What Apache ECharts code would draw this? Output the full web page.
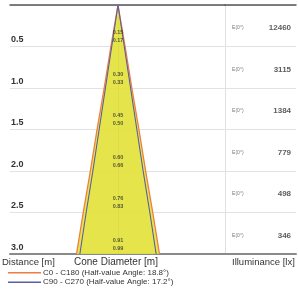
<!DOCTYPE html>
<html>
<head>
<meta charset="UTF-8">
<script src="https://cdn.jsdelivr.net/npm/echarts@6/dist/echarts.min.js"></script>
<style>
    html, body { margin: 0; background: #fff; }
    #chart { width: 298px; height: 294px; }
</style>
</head>
<body>
<div id="chart"></div>
<script>
    const distances = [0, 0.5, 1.0, 1.5, 2.0, 2.5, 3.0];
    const c0Diameters = [0, 0.17, 0.33, 0.50, 0.66, 0.83, 0.99];
    const c90Diameters = [0, 0.15, 0.30, 0.45, 0.60, 0.76, 0.91];
    const illuminance = [12460, 3115, 1384, 779, 498, 346];
    const c0Name = 'C0 - C180 (Half-value Angle: 18.8°)';
    const c90Name = 'C90 - C270 (Half-value Angle: 17.2°)';

    const FONT = '"Liberation Sans", Arial, sans-serif';
    const ORANGE = '#ee7d44';
    const BLUE = '#5b5ca6';

    // cone outline: left edge bottom -> apex, then right edge apex -> bottom
    function outline(diams) {
        const left = distances.map((d, i) => [-diams[i] / 2, d]).reverse();
        const right = distances.map((d, i) => [diams[i] / 2, d]).slice(1);
        return left.concat(right);
    }
    const c0Outline = outline(c0Diameters);
    const c90Outline = outline(c90Diameters);

    const chart = echarts.init(document.getElementById('chart'));

    const plainX = (grid, pos, color, width) => ({
        type: 'value', gridIndex: grid, position: pos,
        min: grid === 0 ? -1.289 : 0, max: grid === 0 ? 1.277 : 1,
        axisLine: { show: true, onZero: false, lineStyle: { color: color, width: width } },
        axisTick: { show: false }, axisLabel: { show: false }, splitLine: { show: false }
    });

    chart.setOption({
        animation: false,
        backgroundColor: '#fff',
        grid: [
            { left: 10, top: 5, width: 215, bottom: 40 },
            { left: 225, top: 5, right: 2, bottom: 40 }
        ],
        xAxis: [
            plainX(0, 'bottom', '#8a8a8a', 2),
            plainX(0, 'top', '#555', 1.5),
            plainX(1, 'bottom', '#8a8a8a', 2),
            plainX(1, 'top', '#555', 1.5)
        ],
        yAxis: [
            {
                type: 'value', gridIndex: 0, inverse: true, min: 0, max: 3, interval: 0.5,
                axisLine: { show: true, lineStyle: { color: '#999' } },
                axisTick: { show: false },
                splitLine: { lineStyle: { color: '#e2e2e2' } },
                axisLabel: {
                    inside: true, margin: 1, verticalAlign: 'bottom', padding: [0, 0, 2, 0],
                    color: '#333', fontFamily: FONT, fontSize: 9, fontWeight: 'bold',
                    formatter: v => v === 0 ? '' : v.toFixed(1)
                }
            },
            {
                type: 'value', gridIndex: 1, inverse: true, min: 0, max: 3, interval: 0.5,
                axisLine: { show: true, lineStyle: { color: '#e0e0e0' } },
                axisTick: { show: false }, axisLabel: { show: false },
                splitLine: { lineStyle: { color: '#e2e2e2' } }
            }
        ],
        legend: {
            orient: 'vertical', left: 8, top: 268, height: 30, padding: 0, itemGap: 0,
            itemWidth: 33, itemHeight: 1.5, icon: 'rect',
            textStyle: { fontFamily: FONT, fontSize: 8, color: '#333', lineHeight: 9.5, padding: [0, 0, 0, -3] },
            data: [c0Name, c90Name]
        },
        graphic: [
            { type: 'text', left: 2, top: 257, style: { text: 'Distance [m]', font: '9.5px ' + FONT, fill: '#333' } },
            { type: 'text', left: 74, top: 257, style: { text: 'Cone Diameter [m]', font: '10px ' + FONT, fill: '#333' } },
            { type: 'text', left: 232, top: 257, style: { text: 'Illuminance [lx]', font: '9.5px ' + FONT, fill: '#333' } }
        ],
        series: [
            {
                type: 'custom', xAxisIndex: 0, yAxisIndex: 0, z: 1,
                data: [0],
                renderItem: (params, api) => ({
                    type: 'polygon',
                    shape: { points: c0Outline.map(p => api.coord(p)) },
                    style: { fill: '#e3e33c', opacity: 0.92 }
                })
            },
            {
                name: c0Name, type: 'line', xAxisIndex: 0, yAxisIndex: 0, z: 3,
                data: c0Outline, showSymbol: false, symbol: 'none',
                lineStyle: { color: ORANGE, width: 1.3 }, itemStyle: { color: ORANGE }
            },
            {
                name: c90Name, type: 'line', xAxisIndex: 0, yAxisIndex: 0, z: 4,
                data: c90Outline, showSymbol: false, symbol: 'none',
                lineStyle: { color: BLUE, width: 1.1 }, itemStyle: { color: BLUE }
            },
            {
                type: 'scatter', xAxisIndex: 0, yAxisIndex: 0, z: 5, symbolSize: 0,
                data: distances.slice(1).map(d => [0, d]),
                label: {
                    show: true, position: 'inside', offset: [0, -10],
                    fontFamily: FONT, fontSize: 5.5, fontWeight: 'bold', color: '#333', lineHeight: 8,
                    formatter: p => c90Diameters[p.dataIndex + 1].toFixed(2) + '\n' + c0Diameters[p.dataIndex + 1].toFixed(2)
                }
            },
            {
                type: 'scatter', xAxisIndex: 2, yAxisIndex: 1, symbolSize: 0,
                data: distances.slice(1).map(d => [0.1, d]),
                label: {
                    show: true, position: 'inside', offset: [0, -18.5], align: 'left',
                    fontFamily: FONT, fontSize: 5, color: '#555',
                    formatter: () => 'E(0°)'
                }
            },
            {
                type: 'scatter', xAxisIndex: 2, yAxisIndex: 1, symbolSize: 0,
                data: distances.slice(1).map(d => [0.93, d]),
                label: {
                    show: true, position: 'inside', offset: [0, -18.5], align: 'right',
                    fontFamily: FONT, fontSize: 8, fontWeight: 'bold', color: '#333',
                    formatter: p => String(illuminance[p.dataIndex])
                }
            }
        ]
    });
</script>
</body>
</html>
